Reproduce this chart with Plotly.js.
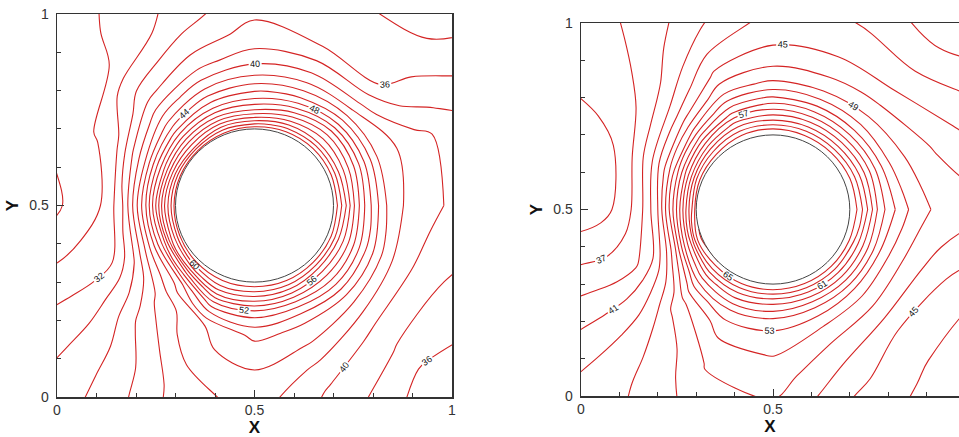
<!DOCTYPE html>
<html><head><meta charset="utf-8">
<script src="https://cdn.plot.ly/plotly-3.0.1.min.js"></script>
<style>html,body{margin:0;padding:0;background:#fff}#chart{width:959px;height:437px}</style>
</head><body><div id="chart"></div>
<script>
// ---- data ----
// radial stations (distance from the cylinder centre)
const radii = [0.2, 0.215, 0.23, 0.25, 0.275, 0.3, 0.34, 0.39, 0.45, 0.52, 0.6, 0.71];
// angular stations, degrees counter-clockwise from +X (ring closes at 360)
const angles = [0, 22.5, 45, 67.5, 90, 112.5, 135, 157.5, 180, 202.5, 225, 247.5, 270, 292.5, 315, 337.5, 360];
// left panel values, one row per angle (0 .. 337.5), one column per radius
const leftValues = [
  [64, 61, 58.5, 54.5, 50.5, 47.5, 43.5, 41.5, 40.3, 39.6, 39, 38.5],
  [64, 61, 58, 55, 51.5, 48, 43.5, 42, 40.8, 39.3, 38, 37],
  [64, 61, 58, 55.5, 52, 48, 43, 39, 35.9, 35.1, 34.2, 33],
  [64, 60.5, 57.5, 54, 50, 46.5, 42.5, 39, 36, 34.9, 34, 33],
  [63.5, 59.5, 56, 52, 48.5, 45.8, 42, 38.7, 36.6, 35.4, 34.5, 33.5],
  [63, 59.5, 56, 52, 48, 45, 41, 37.5, 35, 33, 32, 31],
  [63, 58, 55, 51, 46.5, 43, 39, 35.5, 32.8, 30, 29.5, 29],
  [63, 58.5, 54.5, 49.5, 44.5, 40, 35.5, 30.8, 29.6, 28.7, 28, 28],
  [63, 59, 55.5, 50, 44, 39.5, 33, 30, 28.9, 27.2, 26.5, 26.5],
  [63.5, 59, 55.5, 49, 44, 40, 35, 32, 31, 31, 31, 31],
  [64, 60.5, 57, 51, 45, 43, 40.7, 38.9, 37.4, 35.9, 35.4, 35],
  [64, 61.5, 59.5, 56, 51.5, 48, 43.8, 43.6, 42, 40.8, 40, 39],
  [64, 61.5, 59.3, 56, 52, 49.3, 46.5, 44.8, 43.6, 42.8, 42, 41],
  [64, 61.5, 59, 55.5, 51.5, 48.5, 45.5, 43.8, 41.5, 39.6, 38.5, 37],
  [64, 61, 58, 55, 52, 49, 45, 42, 39.3, 37.8, 35.8, 34],
  [64, 61, 58, 55, 51.5, 48.5, 44.5, 41.2, 39.5, 38, 37, 36]
];
// right panel values, same layout
const rightValues = [
  [67, 65.5, 63.5, 60.5, 56.5, 54.3, 51.6, 49.4, 48.3, 47.8, 47.5, 47],
  [67, 65.3, 63, 60, 56.5, 53.5, 50, 48.4, 46.8, 45.3, 44, 42.5],
  [67, 65, 62.5, 59.5, 56, 53, 49.6, 47.2, 45, 43.1, 41.2, 39.5],
  [67, 65, 62.5, 59.5, 56, 53, 49.2, 46.7, 44.8, 43.5, 42, 40.5],
  [67, 65.2, 62.5, 59.5, 56.2, 53.2, 49.3, 46.7, 44.7, 43.5, 42.5, 41.5],
  [67, 65, 62.5, 59.5, 55.5, 52.5, 48.5, 45.5, 43, 40.8, 39.5, 38.5],
  [66.5, 64, 61, 57, 52.5, 48.5, 44, 40.5, 38, 37, 36.3, 36],
  [66.5, 63, 59, 54.5, 49.5, 45.5, 41, 37.2, 35, 34.2, 34.2, 34.2],
  [66, 62, 58.2, 53.3, 48, 43, 38.8, 35.8, 34.2, 33.5, 33.5, 33.5],
  [67.5, 64.5, 59.5, 55, 49, 45, 40.8, 38.6, 38.1, 38.3, 38.5, 38.5],
  [67, 64.5, 62, 58.5, 55, 52, 48.5, 46.5, 44.8, 44.2, 44, 44],
  [67, 65, 62.5, 59.8, 56.8, 54.2, 52, 50.5, 49.2, 48.2, 47.2, 46],
  [67, 65, 62.5, 59.5, 56.8, 54.3, 52.3, 51.1, 50, 48.8, 47.5, 46],
  [67, 65, 62.5, 59.5, 56, 53.6, 51, 49, 47.2, 45.5, 44, 43],
  [67, 65, 62.5, 59.5, 56, 53, 50.2, 48, 45.2, 43.8, 42.6, 41.5],
  [67, 65, 62.5, 59.5, 56, 53, 50, 48, 46, 44.2, 43, 42]
];
const cylinder = {cx: 0.5, cy: 0.5, r: 0.2};
const leftLevels = {labelled: 28, plain: 30, last: 64, step: 4};
const rightLevels = {labelled: 37, plain: 35, last: 67, step: 4};
const axisTicks = [0, 0.5, 1];
const minorTicks = [0.1, 0.2, 0.3, 0.4, 0.6, 0.7, 0.8, 0.9];

// ---- build the polar carpet grid ----
function ring(rows) { return rows.concat([rows[0]]); }
const gx = angles.map(t => radii.map(r => cylinder.cx + r * Math.cos(t * Math.PI / 180)));
const gy = angles.map(t => radii.map(r => cylinder.cy + r * Math.sin(t * Math.PI / 180)));

const RED = '#d42424';
const carpetAxis = {showgrid: false, showline: false, showticklabels: 'none', startline: false,
  endline: false, ticks: '', minorgridcount: 0, gridcolor: 'rgba(0,0,0,0)'};

function panel(id, xa, ya, values, lv) {
  const z = ring(values);
  const base = {type: 'contourcarpet', carpet: id, a: radii, b: angles, z: z, xaxis: xa, yaxis: ya,
    autocontour: false, showscale: false, hoverinfo: 'skip'};
  return [
    {type: 'carpet', carpet: id, a: radii, b: angles, x: gx, y: gy, xaxis: xa, yaxis: ya,
     aaxis: carpetAxis, baxis: carpetAxis, hoverinfo: 'skip'},
    Object.assign({}, base, {
      contours: {start: lv.plain, end: lv.last, size: lv.step, coloring: 'none', showlabels: false},
      line: {color: RED, width: 1.1, smoothing: 1}}),
    Object.assign({}, base, {
      contours: {start: lv.labelled, end: lv.last, size: lv.step, coloring: 'none', showlabels: true,
        labelfont: {family: 'Liberation Sans, Arial', size: 9, color: '#111'}},
      line: {color: RED, width: 1.1, smoothing: 1}})
  ];
}

const data = [].concat(
  panel('c1', 'x', 'y', leftValues, leftLevels),
  panel('c2', 'x2', 'y2', rightValues, rightLevels)
);

const tickFont = {family: 'Liberation Sans, Arial', size: 14, color: '#333'};
function axis(extra) {
  return Object.assign({
    tickmode: 'array', tickvals: axisTicks, ticks: 'inside', ticklen: 7, tickwidth: 1, tickcolor: '#333',
    showline: true, linecolor: '#333', linewidth: 1.5, mirror: true, showgrid: false, zeroline: false,
    tickfont: tickFont, ticklabelstandoff: 4, automargin: false, fixedrange: true,
    minor: {tickvals: minorTicks, ticks: 'inside', ticklen: 4, tickcolor: '#333', showgrid: false}
  }, extra);
}
const xTitle = {text: '<b>X</b>', font: {family: 'Liberation Sans, Arial', size: 17, color: '#111'}, standoff: 1};
const yTitle = {text: '<b>Y</b>', font: {family: 'Liberation Sans, Arial', size: 17, color: '#111'}, standoff: 6};

const layout = {
  width: 959, height: 437, margin: {l: 0, r: 0, t: 0, b: 0},
  paper_bgcolor: '#fff', plot_bgcolor: '#fff', showlegend: false,
  xaxis: axis({domain: [57/959, 452/959], range: [0, 1], anchor: 'y', title: xTitle, ticklabelstandoff: 0}),
  yaxis: axis({domain: [40/437, 423/437], range: [0, 1], anchor: 'x', title: yTitle}),
  xaxis2: axis({domain: [581/959, 1], range: [0, 378/384], anchor: 'y2', title: xTitle, ticklabelstandoff: 0}),
  yaxis2: axis({domain: [41/437, 414/437], range: [0, 1], anchor: 'x2', title: yTitle, mirror: false}),
  shapes: [['x','y'], ['x2','y2']].map(([xr, yr]) => ({type: 'circle', xref: xr, yref: yr,
    x0: cylinder.cx - cylinder.r, x1: cylinder.cx + cylinder.r,
    y0: cylinder.cy - cylinder.r, y1: cylinder.cy + cylinder.r,
    line: {color: '#444', width: 1}, layer: 'above'}))
};

Plotly.newPlot('chart', data, layout, {staticPlot: true, displayModeBar: false});
</script></body></html>
